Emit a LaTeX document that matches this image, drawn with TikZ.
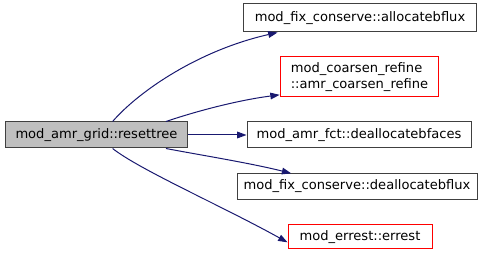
\documentclass[tikz,border=0pt]{standalone}
\usepackage{fontspec}
\setmainfont{DejaVu Sans}
\usepackage{tikz}
\usetikzlibrary{arrows.meta}
\definecolor{edgeblue}{HTML}{191970}

\begin{document}
\begin{tikzpicture}[
  x=0.75pt, y=-0.75pt,
  fnbox/.style={rectangle, draw=black!75, fill=white, line width=0.75pt, inner sep=0pt,
               font=\fontsize{9.8}{11.5}\selectfont, align=center},
  rootbox/.style={fnbox, fill=black!25},
  redbox/.style={fnbox, draw=red},
  call/.style={-{Triangle[length=7pt,width=5pt]}, draw=edgeblue, line width=0.75pt}
]
\useasboundingbox (0,0) rectangle (489,256);

\node[rootbox, minimum width=137pt, minimum height=19.5pt] (resettree) at (96.5,135) {mod\_amr\_grid::resettree};

\node[fnbox, minimum width=175pt, minimum height=21pt] (allocflux) at (360,18) {mod\_fix\_conserve::allocatebflux};
\node[redbox, minimum width=119pt, minimum height=30pt, align=left] (coarsen) at (359.5,77) {mod\_coarsen\_refine\\::amr\_coarsen\_refine};
\node[fnbox, minimum width=168pt, minimum height=19.5pt] (deallocfaces) at (359,135) {mod\_amr\_fct::deallocatebfaces};
\node[fnbox, minimum width=180pt, minimum height=19pt] (deallocflux) at (357,186.5) {mod\_fix\_conserve::deallocatebflux};
\node[redbox, minimum width=108pt, minimum height=18pt] (errest) at (360,237) {mod\_errest::errest};

% calls
\draw[call] (resettree.40) .. controls (140,90) and (200,50) .. ([xshift=26pt]allocflux.south west);
\draw[call] (resettree.11) .. controls (200,110) and (240,100) .. ([yshift=2pt]coarsen.south west);
\draw[call] (resettree.east) -- (deallocfaces.west);
\draw[call] (resettree.-11) .. controls (200,155) and (250,163) .. ([xshift=41pt]deallocflux.north west);
\draw[call] (resettree.-40) .. controls (140,170) and (220,205) .. ([yshift=-4pt]errest.west);

\end{tikzpicture}
\end{document}
